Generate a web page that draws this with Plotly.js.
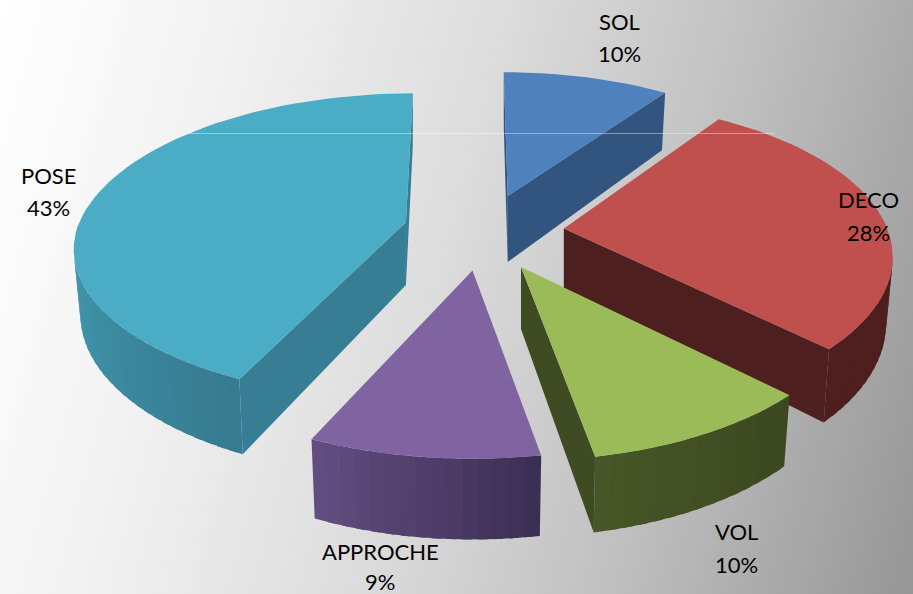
<!DOCTYPE html>
<html>
<head>
<meta charset="utf-8">
<script src="https://cdn.plot.ly/plotly-3.0.1.min.js"></script>
<style>
html,body{margin:0;padding:0;width:913px;height:594px;overflow:hidden;
background:linear-gradient(105deg,#ffffff 0%,#f2f2f2 22%,#dcdcdc 48%,#bfbfbf 72%,#969696 100%);}
#chart{width:913px;height:594px;}
</style>
</head>
<body>
<div id="chart"></div>
<script>
// Data (shares are slightly under/over the rounded labels)
var categories = ["SOL","DECO","VOL","APPROCHE","POSE"];
var shares = [10, 28, 9.6, 9.4, 43];
var percentLabels = ["10%","28%","10%","9%","43%"];

// Colours
var topColors   = ["#4f81bd","#c0504d","#9bbb59","#8064a2","#4bacc6"];
var faceColors  = ["#32557f","#4e1f1f","#3f4b22","#5a4673","#377d94"];
var wallStart   = ["#32557f","#4e1f1f","#465626","#634d80","#4197ae"];
var wallEnd     = ["#32557f","#4e1f1f","#3c4820","#3c2f54","#377b90"];

// View of the pie in pixels
var cx = 484, cy = 231, rx = 330, ry = 154, persp = 0.182;
var explodeX = 80, explodeY = 40, depth = 66, baseShrink = 0.98;
var STEPS = 80;

// Small per-slice view corrections (the original camera is not a clean projection)
//                SOL    DECO   VOL    APPR   POSE
var turnDeg    = [0,     -2.5,  -2,    -1.2,  0];
var radiusMul  = [0.95,  0.98,  1,     1,     0.99];
var frontMul   = [1,     1,     1.03,  1,     0.95];
var depthMul   = [1,     0.97,  0.94,  1,     0.95];
var topSkew    = [-4,    0,     0,     0,     7];
var shiftX     = [-1,    0,     2,     0,     0];
var shiftY     = [3,     0,     0,     0,     0];

function proj(X, Y, ox, oy, down, i) {
  var w = 1 + persp * Y;
  var R = radiusMul[i];
  var sx = R * rx * X / w + (Y > 0 ? topSkew[i] * Y : 0);
  var sy = -R * ry * Y / w * (Y < 0 ? frontMul[i] : 1);
  var px = cx + ox + sx, py = cy + oy + sy;
  if (down) {
    px = cx + ox + sx * baseShrink;
    py += depth * depthMul[i] / w;
  }
  return [px, py];
}
function poly(pts, color) {
  return {
    x: pts.map(function (p) { return p[0]; }),
    y: pts.map(function (p) { return p[1]; }),
    mode: "lines", fill: "toself", fillcolor: color,
    line: {color: color, width: 0},
    hoverinfo: "skip", showlegend: false
  };
}
function hex(c) { return [1,3,5].map(function (i) { return parseInt(c.substr(i,2),16); }); }
function mix(a, b, t) {
  var A = hex(a), B = hex(b);
  return "rgb(" + A.map(function (v, i) { return Math.round(v + (B[i]-v)*t); }).join(",") + ")";
}
// a face is seen when the extrusion direction points away from the interior
function faceSeen(A, B, M) {
  var ex = B[0]-A[0], ey = B[1]-A[1];
  var inner = ex*(M[1]-A[1]) - ey*(M[0]-A[0]);
  return inner * ex < 0;
}

var total = shares.reduce(function (a, b) { return a + b; }, 0);
var angle = 0, built = [];
categories.forEach(function (name, i) {
  var a0 = angle, a1 = angle + shares[i] / total * 2 * Math.PI;
  angle = a1;
  var turn = turnDeg[i] * Math.PI / 180;
  built.push({i: i, a0: a0 + turn, a1: a1 + turn, mid: (a0 + a1) / 2});
});

var traces = [];
[0, 4, 1, 2, 3].forEach(function (idx) {
  var s = built[idx], i = s.i;
  var ox = explodeX * Math.sin(s.mid) + shiftX[i], oy = -explodeY * Math.cos(s.mid) + shiftY[i];
  var pt = function (a, down) { return proj(Math.sin(a), Math.cos(a), ox, oy, down, i); };
  var apexT = proj(0, 0, ox, oy, false, i), apexB = proj(0, 0, ox, oy, true, i);
  var midT = pt((s.a0 + s.a1) / 2, false);

  // outer wall strips, each painted a little under the next one so no seams show
  var n = Math.max(6, Math.round(STEPS * (s.a1 - s.a0) / Math.PI));
  var seen = [];
  for (var k = 0; k < n; k++) {
    var u = s.a0 + (s.a1 - s.a0) * k / n, v = s.a0 + (s.a1 - s.a0) * (k + 1) / n;
    var P0 = pt(u, false), P1 = pt(v, false);
    if (faceSeen(P0, P1, apexT)) seen.push([u, v, P0, P1]);
  }
  // paint left to right: walls run clockwise from the right, so walk backwards
  for (var m = seen.length - 1; m >= 0; m--) {
    var q = seen[m];
    var t = seen.length > 1 ? 1 - m / (seen.length - 1) : 0;
    var col = mix(wallStart[i], wallEnd[i], t);
    var over = m > 0 ? q[0] - (q[1] - q[0]) * 0.6 : q[0];
    traces.push(poly([pt(over, false), q[3], pt(q[1], true), pt(over, true), pt(over, false)], col));
  }

  // radial faces
  [s.a0, s.a1].forEach(function (a) {
    var P = pt(a, false), Q = pt(a, true);
    if (faceSeen(apexT, P, midT)) traces.push(poly([apexT, P, Q, apexB, apexT], faceColors[i]));
  });

  // top surface
  var top = [apexT];
  for (var j = 0; j <= n; j++) top.push(pt(s.a0 + (s.a1 - s.a0) * j / n, false));
  top.push(apexT);
  traces.push(poly(top, topColors[i]));
});

// Label centres in pixels: [name line y, percent line y]
var labelX = [619, 868, 736, 380, 48];
var labelY1 = [21, 199, 531, 551, 175];
var labelY2 = [53, 232, 564, 581, 207];
var annotations = [];
categories.forEach(function (name, i) {
  [[name, labelY1[i]], [percentLabels[i], labelY2[i]]].forEach(function (l) {
    annotations.push({x: labelX[i], y: l[1], xref: "x", yref: "y", text: l[0], showarrow: false,
      xanchor: "center", yanchor: "middle",
      font: {family: "Lato, Carlito, sans-serif", size: 22, color: "#000"}});
  });
});

var layout = {
  width: 913, height: 594,
  margin: {l: 0, r: 0, t: 0, b: 0},
  paper_bgcolor: "rgba(0,0,0,0)", plot_bgcolor: "rgba(0,0,0,0)",
  showlegend: false, dragmode: false,
  xaxis: {range: [0, 913], visible: false, fixedrange: true},
  yaxis: {range: [594, 0], visible: false, fixedrange: true},
  annotations: annotations,
  shapes: [{type: "line", xref: "x", yref: "y", x0: 185, x1: 775, y0: 133.5, y1: 133.5,
            line: {color: "rgba(255,255,255,0.4)", width: 1}}]
};
Plotly.newPlot("chart", traces, layout, {displayModeBar: false, staticPlot: true});
</script>
</body>
</html>
